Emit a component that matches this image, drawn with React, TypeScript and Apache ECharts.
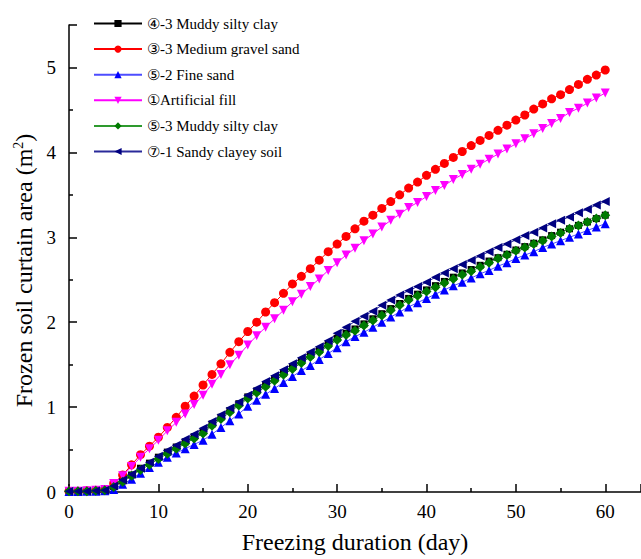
import React, { useEffect, useRef } from "react";
import * as echarts from "echarts";

const days: number[] = Array.from({ length: 61 }, (_, i) => i);

const seriesNames = [
  "④-3 Muddy silty clay",
  "③-3 Medium gravel sand",
  "⑤-2 Fine sand",
  "①Artificial fill",
  "⑤-3 Muddy silty clay",
  "⑦-1 Sandy clayey soil",
];

const muddyClay43 = [
  0.01, 0.01, 0.01, 0.015, 0.02, 0.065, 0.13, 0.2, 0.28, 0.34, 0.41, 0.47, 0.53, 0.59, 0.65, 0.71,
  0.8, 0.88, 0.96, 1.04, 1.12, 1.19, 1.26, 1.33, 1.4, 1.47, 1.54, 1.61, 1.67, 1.74, 1.81,
  1.87, 1.92, 1.98, 2.04, 2.1, 2.16, 2.22, 2.28, 2.33, 2.38, 2.43, 2.48, 2.53, 2.58, 2.62,
  2.67, 2.72, 2.76, 2.8, 2.85, 2.89, 2.93, 2.97, 3.02, 3.06, 3.1, 3.14, 3.18, 3.22, 3.26,
];
const gravelSand = [
  0.01, 0.01, 0.015, 0.02, 0.03, 0.1, 0.2, 0.32, 0.44, 0.54, 0.645, 0.76, 0.88, 1.01, 1.13, 1.26,
  1.385, 1.51, 1.645, 1.77, 1.89, 2.0, 2.12, 2.23, 2.34, 2.45, 2.54, 2.63, 2.73, 2.83, 2.92,
  3.01, 3.1, 3.19, 3.26, 3.34, 3.42, 3.5, 3.58, 3.65, 3.73, 3.8, 3.87, 3.94, 4.01, 4.08,
  4.14, 4.2, 4.26, 4.32, 4.38, 4.44, 4.51, 4.57, 4.63, 4.68, 4.74, 4.8, 4.86, 4.91, 4.97,
];
const fineSand = [
  0.005, 0.005, 0.01, 0.01, 0.015, 0.03, 0.09, 0.15, 0.22, 0.29, 0.35, 0.41, 0.46, 0.51, 0.56, 0.61,
  0.68, 0.76, 0.84, 0.92, 1.01, 1.08, 1.15, 1.22, 1.29, 1.36, 1.43, 1.49, 1.56, 1.63, 1.7,
  1.77, 1.83, 1.88, 1.94, 2.0, 2.06, 2.12, 2.18, 2.23, 2.28, 2.33, 2.38, 2.43, 2.47, 2.52,
  2.57, 2.61, 2.66, 2.7, 2.75, 2.79, 2.83, 2.88, 2.92, 2.96, 3.0, 3.04, 3.08, 3.12, 3.16,
];
const artificialFill = [
  0.01, 0.01, 0.015, 0.02, 0.03, 0.1, 0.19, 0.3, 0.41, 0.51, 0.61, 0.72, 0.82, 0.92, 1.03, 1.14,
  1.27, 1.385, 1.5, 1.61, 1.73, 1.84, 1.94, 2.04, 2.14, 2.24, 2.33, 2.42, 2.51, 2.61, 2.7,
  2.79, 2.87, 2.96, 3.04, 3.12, 3.2, 3.27, 3.35, 3.41, 3.48, 3.55, 3.61, 3.68, 3.74, 3.8,
  3.86, 3.92, 3.98, 4.04, 4.1, 4.16, 4.22, 4.28, 4.34, 4.4, 4.47, 4.52, 4.58, 4.64, 4.7,
];
const muddyClay53 = [
  0.01, 0.01, 0.01, 0.015, 0.02, 0.06, 0.12, 0.19, 0.26, 0.32, 0.39, 0.45, 0.51, 0.57, 0.63, 0.69,
  0.78, 0.86, 0.94, 1.02, 1.1, 1.17, 1.24, 1.31, 1.38, 1.45, 1.52, 1.59, 1.65, 1.72, 1.79,
  1.85, 1.9, 1.96, 2.02, 2.08, 2.14, 2.2, 2.26, 2.31, 2.36, 2.41, 2.46, 2.51, 2.56, 2.6,
  2.65, 2.7, 2.75, 2.79, 2.84, 2.88, 2.92, 2.96, 3.01, 3.05, 3.1, 3.14, 3.18, 3.22, 3.26,
];
const sandyClayey = [
  0.01, 0.01, 0.01, 0.015, 0.02, 0.07, 0.14, 0.21, 0.28, 0.35, 0.42, 0.49, 0.55, 0.62, 0.68, 0.75,
  0.83, 0.91, 0.99, 1.06, 1.14, 1.22, 1.3, 1.37, 1.44, 1.51, 1.58, 1.65, 1.71, 1.78, 1.87,
  1.94, 2.01, 2.07, 2.13, 2.2, 2.26, 2.32, 2.37, 2.42, 2.47, 2.53, 2.58, 2.63, 2.68, 2.73,
  2.78, 2.83, 2.88, 2.92, 2.97, 3.02, 3.06, 3.11, 3.16, 3.2, 3.24, 3.29, 3.33, 3.38, 3.42,
];

const xTickValues = [0, 10, 20, 30, 40, 50, 60];
const yTickValues = [0, 1, 2, 3, 4, 5];

const FONT = "'Liberation Serif', 'Times New Roman', serif";

export default function App() {
  const ref = useRef<HTMLDivElement>(null);
  useEffect(() => {
    if (!ref.current) return;
    const chart = echarts.init(ref.current, undefined, { renderer: "svg" });
    const mk = (vals: number[]) => days.map((d, i) => [d, vals[i]]);
    const defs = [
      { name: seriesNames[0], data: muddyClay43, color: "#000000", line: "#000000", symbol: "rect", size: 7, rot: 0 },
      { name: seriesNames[1], data: gravelSand, color: "#ff0000", line: "#ff0000", symbol: "circle", size: 9, rot: 0 },
      { name: seriesNames[2], data: fineSand, color: "#0000ff", line: "#4d4dff", symbol: "triangle", size: 9, rot: 0 },
      { name: seriesNames[3], data: artificialFill, color: "#ff00ff", line: "#ff00ff", symbol: "triangle", size: 9, rot: 180 },
      { name: seriesNames[4], data: muddyClay53, color: "#007a00", line: "#2e9a2e", symbol: "diamond", size: 10, rot: 0 },
      { name: seriesNames[5], data: sandyClayey, color: "#000080", line: "#2a2a9a", symbol: "triangle", size: 9, rot: 90 },
    ];
    chart.setOption({
      animation: false,
      backgroundColor: "#ffffff",
      grid: { left: 69, right: 0, top: 25, bottom: 65, containLabel: false },
      legend: {
        orient: "vertical",
        left: 88,
        top: 11,
        itemWidth: 48,
        itemHeight: 9,
        itemGap: 10.6,
        textStyle: { fontFamily: FONT, fontSize: 15, color: "#000", lineHeight: 15 },
        data: seriesNames,
      },
      xAxis: {
        type: "value",
        min: 0,
        max: 64,
        interval: 10,
        name: "Freezing duration (day)",
        nameLocation: "middle",
        nameGap: 38,
        nameTextStyle: { fontFamily: FONT, fontSize: 24, color: "#000" },
        axisLine: { show: true, onZero: false, lineStyle: { color: "#000", width: 1.5 } },
        axisTick: { show: true, inside: true, length: 8, lineStyle: { color: "#000", width: 1.5 } },
        minorTick: { show: true, splitNumber: 2, length: 4, lineStyle: { color: "#000", width: 1.5 } },
        axisLabel: {
          fontFamily: FONT,
          fontSize: 19,
          color: "#000",
          margin: 10,
          showMaxLabel: false,
          formatter: (v: number) => (xTickValues.includes(v) ? String(v) : ""),
        },
        splitLine: { show: false },
      },
      yAxis: {
        type: "value",
        min: 0,
        max: 5.5,
        interval: 1,
        name: "Frozen soil curtain area (m{sup|2})",
        nameLocation: "middle",
        nameGap: 33,
        nameRotate: 90,
        nameTextStyle: {
          fontFamily: FONT,
          fontSize: 24,
          color: "#000",
          padding: [0, 24, 0, 0],
          rich: { sup: { fontFamily: FONT, fontSize: 14, verticalAlign: "top", padding: [0, 0, 10, 0], color: "#000" } },
        },
        axisLine: { show: true, onZero: false, lineStyle: { color: "#000", width: 1.5 } },
        axisTick: { show: true, inside: true, length: 8, lineStyle: { color: "#000", width: 1.5 } },
        minorTick: { show: true, splitNumber: 2, length: 4, lineStyle: { color: "#000", width: 1.5 } },
        axisLabel: {
          fontFamily: FONT,
          fontSize: 19,
          color: "#000",
          margin: 13,
          showMaxLabel: false,
          formatter: (v: number) => (yTickValues.includes(v) ? String(v) : ""),
        },
        splitLine: { show: false },
      },
      series: defs.map((d) => ({
        name: d.name,
        type: "line",
        data: mk(d.data),
        symbol: d.symbol,
        symbolSize: d.size,
        symbolRotate: d.rot,
        showAllSymbol: true,
        lineStyle: { color: d.line, width: 1 },
        itemStyle: { color: d.color },
        emphasis: { disabled: true },
      })),
    });
    return () => chart.dispose();
  }, []);
  return <div ref={ref} style={{ position: "fixed", left: 0, top: 0, width: 641, height: 559 }} />;
}
